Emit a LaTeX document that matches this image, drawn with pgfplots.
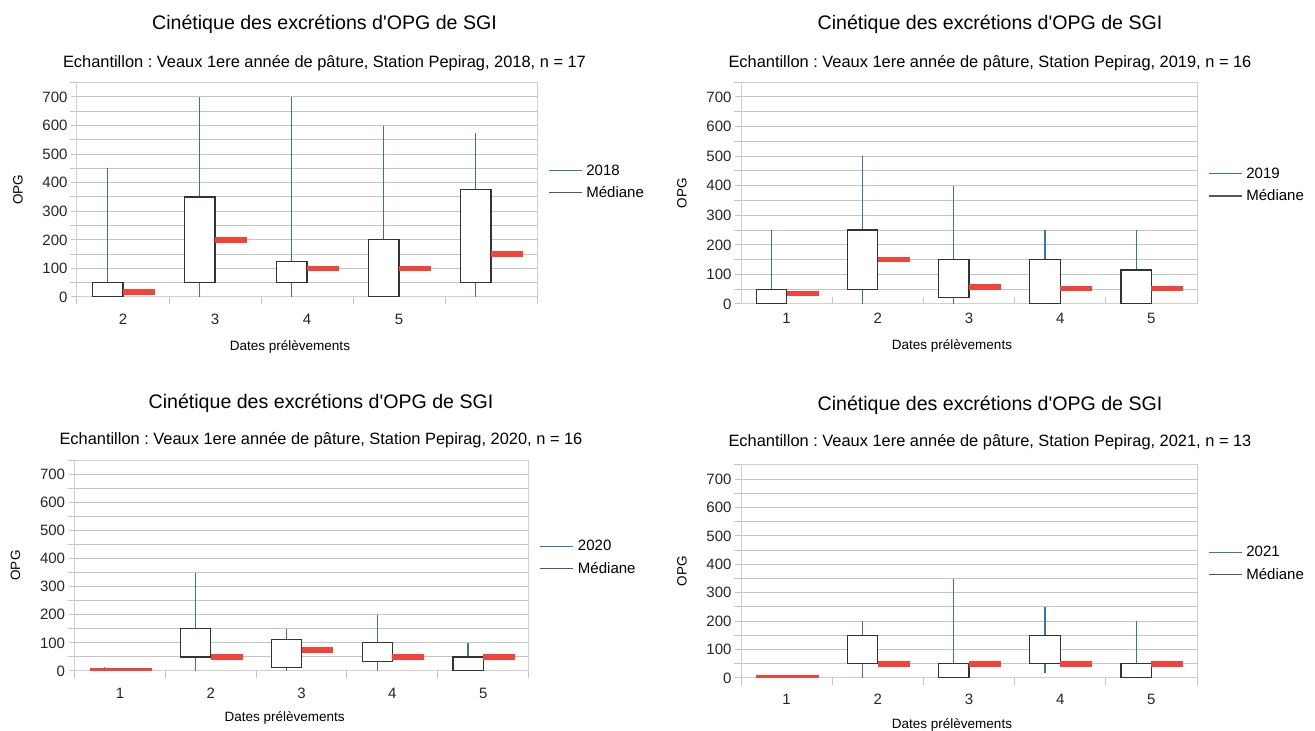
\documentclass[border=0pt]{standalone}
\usepackage{fontspec}
\setmainfont{Liberation Sans}[Ligatures=TeXOff]
\usepackage{pgfplots}
\pgfplotsset{compat=1.18}
\definecolor{whc}{HTML}{3A72AD}
\definecolor{boxc}{HTML}{333333}
\definecolor{medc}{HTML}{F4433A}
\definecolor{gridc}{HTML}{C4C4C4}
\definecolor{framec}{HTML}{D0D0D0}
\definecolor{legc}{HTML}{555555}
% #1 box left x, #2 box right x, #3 low, #4 q1, #5 q3, #6 high, #7 median start, #8 median end, #9 median
\newcommand\cat[9]{%
  \addplot[draw=whc, line width=1.2pt, forget plot] coordinates {({(#1+#2)/2},#3) ({(#1+#2)/2},#6)};
  \addplot[draw=boxc, fill=white, line width=1.2pt, forget plot] coordinates {(#1,#4) (#2,#4) (#2,#5) (#1,#5)} -- cycle;
  \addplot[draw=medc, line width=5.5pt, forget plot] coordinates {(#7,#9) (#8,#9)};}
\pgfplotsset{
 panel/.style={
  scale only axis,
  xmin=0.5, xmax=5.5, ymin=0, ymax=750,
  xtick={1,2,3,4,5},
  minor xtick={0.5,1.5,2.5,3.5,4.5,5.5},
  ytick={0,100,...,700},
  minor ytick={50,150,...,750},
  ymajorgrids, yminorgrids,
  major grid style={draw=gridc, line width=1pt},
  minor grid style={draw=gridc, line width=1pt},
  axis line style={draw=framec, line width=1pt},
  tick align=outside,
  xtick pos=bottom, ytick pos=left,
  major tick length=6pt, minor tick length=7pt,
  major x tick style={draw=none},
  minor x tick style={draw=gridc, line width=1pt},
  y tick style={draw=gridc, line width=1pt},
  /pgf/number format/assume math mode=true,
  tick label style={font=\fontsize{15}{15}\selectfont, text=black!85},
  xticklabel style={anchor=center},
  xlabel={Dates prélèvements},
  ylabel={OPG},
  label style={font=\fontsize{13.5}{13.5}\selectfont},
  ylabel style={at={([xshift=-59pt]axis description cs:0,0.5)}, anchor=center, rotate=0},
  legend cell align=left,
  legend style={draw=none, fill=none, at={(1,0.5)}, anchor=west, xshift=11pt, yshift=8pt,
    font=\fontsize{15}{15}\selectfont, row sep=6pt, inner sep=0pt,
    nodes={inner xsep=4pt}},
  legend image code/.code={\draw[##1] (0pt,0pt) -- (33pt,0pt);},
 },
}
\newcommand\leg[1]{\addlegendimage{draw=whc, line width=1.2pt}\addlegendentry{#1}
  \addlegendimage{draw=legc, line width=1.2pt}\addlegendentry{Médiane}}
\newcommand\ttl{\fontsize{19.6}{19.6}\selectfont Cinétique des excrétions d'OPG de SGI}
\newcommand\sub[2]{\fontsize{16.4}{16.4}\selectfont Echantillon : Veaux 1ere année de pâture, Station Pepirag, #1, n = #2}
\frenchspacing
\begin{document}
\frenchspacing
\begin{tikzpicture}
\useasboundingbox (0pt,0pt) rectangle (1315pt,731pt);
% ---------- 2018
\begin{axis}[panel, at={(77pt,434pt)}, anchor=south west, width=460pt, height=214.3pt,
  xticklabels={2,3,4,5,{}},
  xticklabel style={yshift=-16pt},
  xlabel style={at={(axis description cs:0.5,0)}, anchor=center, yshift=-50pt, xshift=-17pt}]
\cat{0.667}{1}{0}{0}{50}{450}{1}{1.35}{17.5}
\cat{1.667}{2}{0}{50}{350}{700}{2}{2.35}{200}
\cat{2.667}{3}{0}{50}{125}{700}{3}{3.35}{100}
\cat{3.667}{4}{0}{0}{200}{600}{4}{4.35}{100}
\cat{4.667}{5}{0}{50}{375}{575}{5}{5.35}{150}
\leg{2018}
\end{axis}
\node at (324.5pt,707pt) {\ttl};
\node at (324.5pt,668pt) {\sub{2018}{17}};
% ---------- 2019
\begin{axis}[panel, at={(741pt,427pt)}, anchor=south west, width=456pt, height=221.8pt,
  xticklabels={1,2,3,4,5},
  minor x tick style={draw=gridc, line width=1pt, yshift=7pt},
  xticklabel style={yshift=-8pt},
  xlabel style={at={(axis description cs:0.5,0)}, anchor=center, yshift=-42pt, xshift=-17pt}]
\cat{0.667}{1}{0}{0}{50}{250}{1}{1.35}{35}
\cat{1.667}{2}{0}{50}{250}{500}{2}{2.35}{150}
\cat{2.667}{3}{0}{22.5}{150}{400}{3}{3.35}{57}
\cat{3.667}{4}{0}{0}{150}{250}{4}{4.35}{52}
\cat{4.667}{5}{0}{0}{115}{250}{5}{5.35}{52}
\leg{2019}
\end{axis}
\node at (990pt,707pt) {\ttl};
\node at (990pt,668pt) {\sub{2019}{16}};
% ---------- 2020
\begin{axis}[panel, at={(74.6pt,60pt)}, anchor=south west, width=454pt, height=211pt,
  xticklabels={1,2,3,4,5},
  xticklabel style={yshift=-16pt},
  xlabel style={at={(axis description cs:0.5,0)}, anchor=center, yshift=-47pt, xshift=-17pt}]
\cat{0.667}{1}{0}{0}{0}{15}{0.667}{1.35}{0}
\cat{1.667}{2}{0}{50}{150}{350}{2}{2.35}{50}
\cat{2.667}{3}{0}{12}{112}{150}{3}{3.35}{74}
\cat{3.667}{4}{0}{33}{100}{200}{4}{4.35}{50}
\cat{4.667}{5}{0}{0}{50}{100}{5}{5.35}{50}
\leg{2020}
\end{axis}
\node at (321pt,328pt) {\ttl};
\node at (321pt,291pt) {\sub{2020}{16}};
% ---------- 2021
\begin{axis}[panel, at={(741pt,53pt)}, anchor=south west, width=456pt, height=213.2pt,
  xticklabels={1,2,3,4,5},
  xticklabel style={yshift=-15pt},
  xlabel style={at={(axis description cs:0.5,0)}, anchor=center, yshift=-47pt, xshift=-17pt}]
\cat{0.667}{1}{0}{0}{0}{0}{0.667}{1.35}{0}
\cat{1.667}{2}{0}{50}{150}{200}{2}{2.35}{50}
\cat{2.667}{3}{0}{0}{50}{350}{3}{3.35}{50}
\cat{3.667}{4}{16}{50}{150}{250}{4}{4.35}{50}
\cat{4.667}{5}{0}{0}{50}{200}{5}{5.35}{50}
\leg{2021}
\end{axis}
\node at (990pt,326pt) {\ttl};
\node at (990pt,289pt) {\sub{2021}{13}};
\end{tikzpicture}
\end{document}
